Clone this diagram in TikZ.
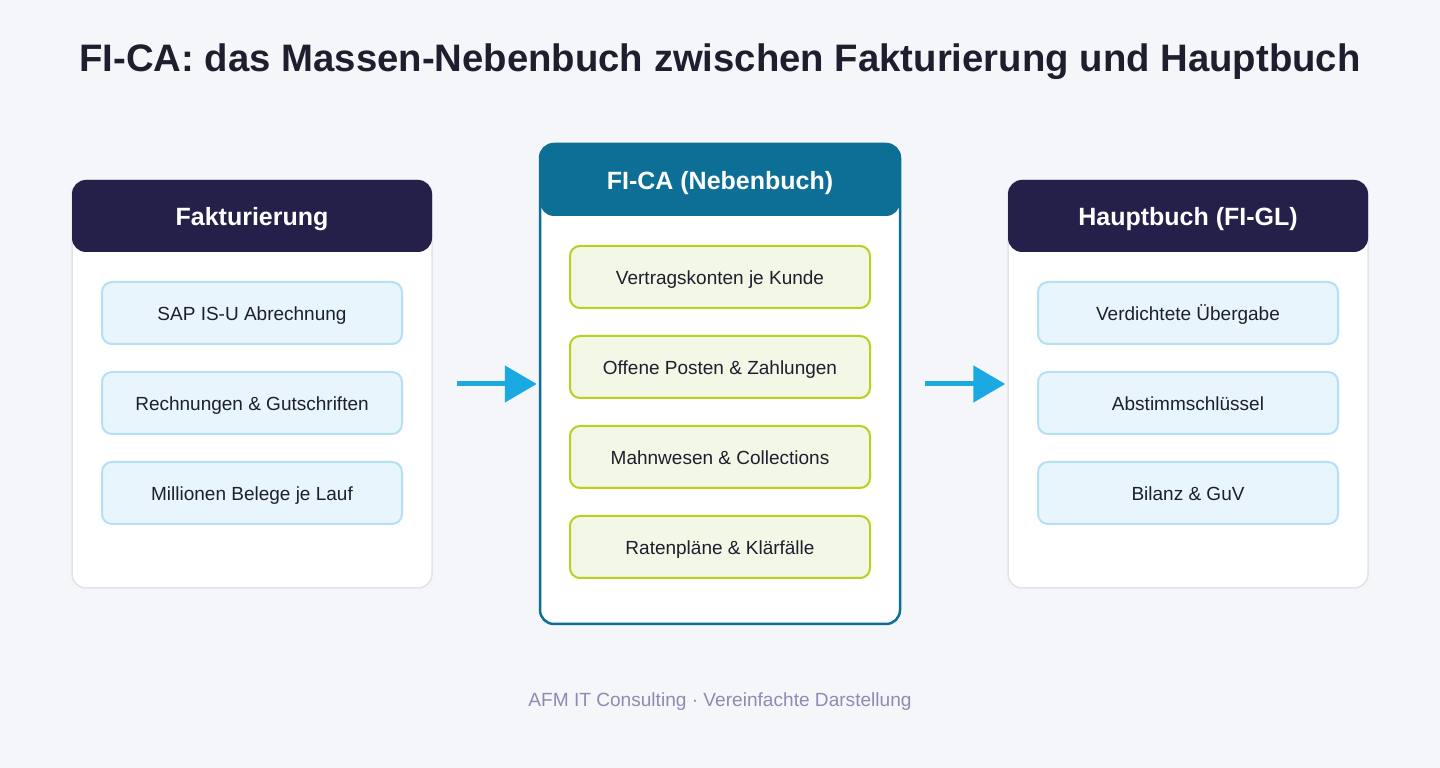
\documentclass[tikz,border=0pt]{standalone}
\usepackage{fontspec}
\setmainfont{Liberation Sans}
\usepackage{xcolor}
\usepackage{tikz}
\usetikzlibrary{
  arrows.meta,
  positioning,
}
\definecolor{pagebg}{HTML}{F5F6FA}
\definecolor{navyhead}{HTML}{25204A}
\definecolor{tealhead}{HTML}{0D6E96}
\definecolor{cardline}{HTML}{E1E3EA}
\definecolor{itemblue}{HTML}{E8F5FD}
\definecolor{itembluedraw}{HTML}{B3E0F5}
\definecolor{itemgreen}{HTML}{F3F7E5}
\definecolor{itemgreendraw}{HTML}{BBCF1E}
\definecolor{flowblue}{HTML}{1AA9E1}
\definecolor{inktext}{HTML}{1E1E2E}
\definecolor{footgray}{HTML}{8C8BB3}

\begin{document}
\begin{tikzpicture}[
    x=1pt, y=1pt,
    card/.style={rectangle, rounded corners=14pt, fill=white, draw=cardline,
                 line width=1.5pt, minimum width=360pt, inner sep=0pt},
    corecard/.style={card, draw=tealhead, line width=2.5pt},
    head/.style={rectangle, rounded corners=14pt, fill=navyhead, text=white,
                 minimum width=360pt, minimum height=72pt, inner sep=0pt,
                 text height=20pt, text depth=0pt,
                 font=\fontsize{25}{30}\selectfont\bfseries},
    corehead/.style={head, fill=tealhead},
    item/.style={rectangle, rounded corners=10pt, fill=itemblue, draw=itembluedraw,
                 line width=2pt, minimum width=300pt, minimum height=62pt,
                 inner sep=0pt, text height=15pt, text depth=0pt,
                 text=inktext, font=\fontsize{19}{23}\selectfont},
    coreitem/.style={item, fill=itemgreen, draw=itemgreendraw},
    flow/.style={draw=flowblue, line width=5pt,
                 -{Triangle[length=32pt, width=36pt]},
                 shorten <=24pt, shorten >=2pt},
  ]
  \fill[pagebg] (0,0) rectangle (1440,768);
  \useasboundingbox (0,0) rectangle (1440,768);

  \node[text=inktext, font=\fontsize{38.3}{44}\selectfont\bfseries] (title) at (720,706)
    {FI-CA: das Massen-Nebenbuch zwischen Fakturierung und Hauptbuch};

  % Fakturierung
  \node[card, minimum height=408pt] (billing) at (252,384) {};
  \node[head] (billinghead) at (252,552) {Fakturierung};
  \node[item] (isu)     at (252,455) {SAP IS-U Abrechnung};
  \node[item] (invoice) at (252,365) {Rechnungen \& Gutschriften};
  \node[item] (docs)    at (252,275) {Millionen Belege je Lauf};

  % FI-CA
  \node[corecard, minimum height=480pt] (fica) at (720,384) {};
  \node[corehead] (ficahead) at (720,588) {FI-CA (Nebenbuch)};
  \node[coreitem] (accounts) at (720,491) {Vertragskonten je Kunde};
  \node[coreitem] (items)    at (720,401) {Offene Posten \& Zahlungen};
  \node[coreitem] (dunning)  at (720,311) {Mahnwesen \& Collections};
  \node[coreitem] (plans)    at (720,221) {Ratenpläne \& Klärfälle};

  % Hauptbuch
  \node[card, minimum height=408pt] (ledger) at (1188,384) {};
  \node[head] (ledgerhead) at (1188,552) {Hauptbuch (FI-GL)};
  \node[item] (summary)   at (1188,455) {Verdichtete Übergabe};
  \node[item] (reconkey)  at (1188,365) {Abstimmschlüssel};
  \node[item] (balance)   at (1188,275) {Bilanz \& GuV};

  \draw[flow] (billing.east) -- (fica.west);
  \draw[flow] (fica.east) -- (ledger.west);

  \node[text=footgray, font=\fontsize{19.1}{23}\selectfont] (footer) at (720,66)
    {AFM IT Consulting · Vereinfachte Darstellung};
\end{tikzpicture}
\end{document}
